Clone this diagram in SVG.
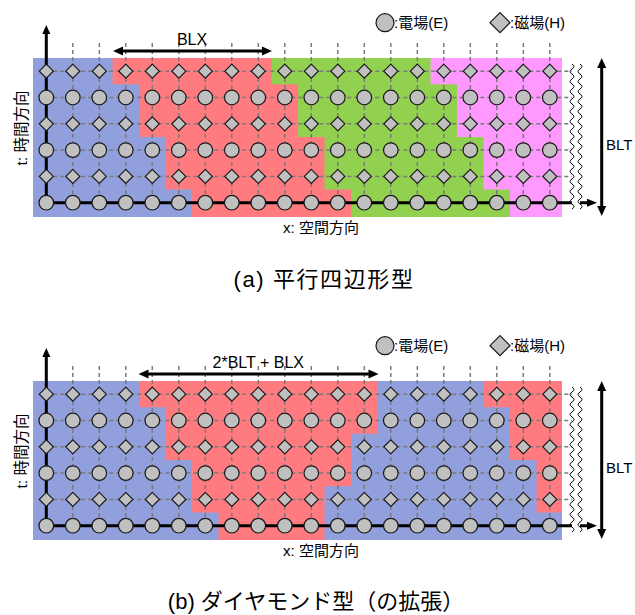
<svg xmlns="http://www.w3.org/2000/svg" xmlns:xlink="http://www.w3.org/1999/xlink" width="635" height="615" viewBox="0 0 635 615">
<style>
.bl{fill:#919FDC}.rd{fill:#FF7B80}.gr{fill:#92D050}.pk{fill:#FF99FF}
.grid{fill:none;stroke:#7A7A7A;stroke-width:1.5;stroke-dasharray:4 3}
.ax{fill:none;stroke:#000;stroke-width:3}
.ah{fill:#000}
.wv{fill:none;stroke:#000;stroke-width:1}
.nd{fill:#C0C0C0;stroke:#1A1A1A;stroke-width:1.2}
.t{font-family:"Liberation Sans","Noto Sans CJK JP",sans-serif;fill:#000}
</style>
<defs>
<circle id="E" class="nd" r="7.3"/>
<path id="H" class="nd" d="M0,-7L7,0L0,7L-7,0Z"/>
<path id="grid" class="grid" d="M72.8,43V202.7M99.3,43V202.7M125.8,43V202.7M152.3,43V202.7M178.8,43V202.7M205.3,43V202.7M231.8,43V202.7M258.3,43V202.7M284.8,43V202.7M311.3,43V202.7M337.8,43V202.7M364.3,43V202.7M390.8,43V202.7M417.3,43V202.7M443.8,43V202.7M470.3,43V202.7M496.8,43V202.7M523.3,43V202.7M549.8,43V202.7M46.3,176.4H572M46.3,150.1H572M46.3,123.8H572M46.3,97.5H572M46.3,71.2H572"/>
<path id="wave" class="wv" d="M0,64q4,2.5 0,5t0,5t0,5t0,5t0,5t0,5t0,5t0,5t0,5t0,5t0,5t0,5t0,5t0,5t0,5t0,5t0,5t0,5t0,5t0,5t0,5t0,5t0,5t0,5t0,5t0,5t0,5t0,5t0,5"/>
</defs>

<!-- ===== (a) ===== -->
<g id="diagramA">
<g id="a-regions">
<rect class="bl" x="33" y="58" width="529" height="159"/>
<polygon class="rd" points="112.55,58 562,58 562,217 192.05,217 192.05,189.55 165.55,189.55 165.55,136.95 139.05,136.95 139.05,84.35 112.55,84.35"/>
<polygon class="gr" points="271.55,58 562,58 562,217 351.05,217 351.05,189.55 324.55,189.55 324.55,136.95 298.05,136.95 298.05,84.35 271.55,84.35"/>
<polygon class="pk" points="430.55,58 562,58 562,217 510.05,217 510.05,189.55 483.55,189.55 483.55,136.95 457.05,136.95 457.05,84.35 430.55,84.35"/>
</g>
<g id="a-connectors">
<use href="#grid"/>
<path class="ax" d="M46.3,202.7V33M46.3,202.7H572M580,202.7H588M601.7,67V207M122,51H263"/>
<polygon class="ah" points="46.3,25 42.3,34 50.3,34"/>
<polygon class="ah" points="597,202.7 587,198.7 587,206.7"/>
<polygon class="ah" points="601.7,58 597.2,68 606.2,68"/>
<polygon class="ah" points="601.7,216 597.2,206 606.2,206"/>
<polygon class="ah" points="113,51 123,46.5 123,55.5"/>
<polygon class="ah" points="272,51 262,46.5 262,55.5"/>
<use href="#wave" x="572"/>
<use href="#wave" x="580"/>
</g>
<g id="a-nodes">
<g id="a-row5" transform="translate(0,71.2)"><use id="aH5_0" href="#H" x="46.3"/><use id="aH5_1" href="#H" x="72.8"/><use id="aH5_2" href="#H" x="99.3"/><use id="aH5_3" href="#H" x="125.8"/><use id="aH5_4" href="#H" x="152.3"/><use id="aH5_5" href="#H" x="178.8"/><use id="aH5_6" href="#H" x="205.3"/><use id="aH5_7" href="#H" x="231.8"/><use id="aH5_8" href="#H" x="258.3"/><use id="aH5_9" href="#H" x="284.8"/><use id="aH5_10" href="#H" x="311.3"/><use id="aH5_11" href="#H" x="337.8"/><use id="aH5_12" href="#H" x="364.3"/><use id="aH5_13" href="#H" x="390.8"/><use id="aH5_14" href="#H" x="417.3"/><use id="aH5_15" href="#H" x="443.8"/><use id="aH5_16" href="#H" x="470.3"/><use id="aH5_17" href="#H" x="496.8"/><use id="aH5_18" href="#H" x="523.3"/><use id="aH5_19" href="#H" x="549.8"/></g>
<g id="a-row4" transform="translate(0,97.5)"><use id="aE4_0" href="#E" x="46.3"/><use id="aE4_1" href="#E" x="72.8"/><use id="aE4_2" href="#E" x="99.3"/><use id="aE4_3" href="#E" x="125.8"/><use id="aE4_4" href="#E" x="152.3"/><use id="aE4_5" href="#E" x="178.8"/><use id="aE4_6" href="#E" x="205.3"/><use id="aE4_7" href="#E" x="231.8"/><use id="aE4_8" href="#E" x="258.3"/><use id="aE4_9" href="#E" x="284.8"/><use id="aE4_10" href="#E" x="311.3"/><use id="aE4_11" href="#E" x="337.8"/><use id="aE4_12" href="#E" x="364.3"/><use id="aE4_13" href="#E" x="390.8"/><use id="aE4_14" href="#E" x="417.3"/><use id="aE4_15" href="#E" x="443.8"/><use id="aE4_16" href="#E" x="470.3"/><use id="aE4_17" href="#E" x="496.8"/><use id="aE4_18" href="#E" x="523.3"/><use id="aE4_19" href="#E" x="549.8"/></g>
<g id="a-row3" transform="translate(0,123.8)"><use id="aH3_0" href="#H" x="46.3"/><use id="aH3_1" href="#H" x="72.8"/><use id="aH3_2" href="#H" x="99.3"/><use id="aH3_3" href="#H" x="125.8"/><use id="aH3_4" href="#H" x="152.3"/><use id="aH3_5" href="#H" x="178.8"/><use id="aH3_6" href="#H" x="205.3"/><use id="aH3_7" href="#H" x="231.8"/><use id="aH3_8" href="#H" x="258.3"/><use id="aH3_9" href="#H" x="284.8"/><use id="aH3_10" href="#H" x="311.3"/><use id="aH3_11" href="#H" x="337.8"/><use id="aH3_12" href="#H" x="364.3"/><use id="aH3_13" href="#H" x="390.8"/><use id="aH3_14" href="#H" x="417.3"/><use id="aH3_15" href="#H" x="443.8"/><use id="aH3_16" href="#H" x="470.3"/><use id="aH3_17" href="#H" x="496.8"/><use id="aH3_18" href="#H" x="523.3"/><use id="aH3_19" href="#H" x="549.8"/></g>
<g id="a-row2" transform="translate(0,150.1)"><use id="aE2_0" href="#E" x="46.3"/><use id="aE2_1" href="#E" x="72.8"/><use id="aE2_2" href="#E" x="99.3"/><use id="aE2_3" href="#E" x="125.8"/><use id="aE2_4" href="#E" x="152.3"/><use id="aE2_5" href="#E" x="178.8"/><use id="aE2_6" href="#E" x="205.3"/><use id="aE2_7" href="#E" x="231.8"/><use id="aE2_8" href="#E" x="258.3"/><use id="aE2_9" href="#E" x="284.8"/><use id="aE2_10" href="#E" x="311.3"/><use id="aE2_11" href="#E" x="337.8"/><use id="aE2_12" href="#E" x="364.3"/><use id="aE2_13" href="#E" x="390.8"/><use id="aE2_14" href="#E" x="417.3"/><use id="aE2_15" href="#E" x="443.8"/><use id="aE2_16" href="#E" x="470.3"/><use id="aE2_17" href="#E" x="496.8"/><use id="aE2_18" href="#E" x="523.3"/><use id="aE2_19" href="#E" x="549.8"/></g>
<g id="a-row1" transform="translate(0,176.4)"><use id="aH1_0" href="#H" x="46.3"/><use id="aH1_1" href="#H" x="72.8"/><use id="aH1_2" href="#H" x="99.3"/><use id="aH1_3" href="#H" x="125.8"/><use id="aH1_4" href="#H" x="152.3"/><use id="aH1_5" href="#H" x="178.8"/><use id="aH1_6" href="#H" x="205.3"/><use id="aH1_7" href="#H" x="231.8"/><use id="aH1_8" href="#H" x="258.3"/><use id="aH1_9" href="#H" x="284.8"/><use id="aH1_10" href="#H" x="311.3"/><use id="aH1_11" href="#H" x="337.8"/><use id="aH1_12" href="#H" x="364.3"/><use id="aH1_13" href="#H" x="390.8"/><use id="aH1_14" href="#H" x="417.3"/><use id="aH1_15" href="#H" x="443.8"/><use id="aH1_16" href="#H" x="470.3"/><use id="aH1_17" href="#H" x="496.8"/><use id="aH1_18" href="#H" x="523.3"/><use id="aH1_19" href="#H" x="549.8"/></g>
<g id="a-row0" transform="translate(0,202.7)"><use id="aE0_0" href="#E" x="46.3"/><use id="aE0_1" href="#E" x="72.8"/><use id="aE0_2" href="#E" x="99.3"/><use id="aE0_3" href="#E" x="125.8"/><use id="aE0_4" href="#E" x="152.3"/><use id="aE0_5" href="#E" x="178.8"/><use id="aE0_6" href="#E" x="205.3"/><use id="aE0_7" href="#E" x="231.8"/><use id="aE0_8" href="#E" x="258.3"/><use id="aE0_9" href="#E" x="284.8"/><use id="aE0_10" href="#E" x="311.3"/><use id="aE0_11" href="#E" x="337.8"/><use id="aE0_12" href="#E" x="364.3"/><use id="aE0_13" href="#E" x="390.8"/><use id="aE0_14" href="#E" x="417.3"/><use id="aE0_15" href="#E" x="443.8"/><use id="aE0_16" href="#E" x="470.3"/><use id="aE0_17" href="#E" x="496.8"/><use id="aE0_18" href="#E" x="523.3"/><use id="aE0_19" href="#E" x="549.8"/></g>
</g>
<g id="a-legend">
<circle class="nd" cx="385" cy="22.7" r="9"/>
<text class="t" x="394" y="28" font-size="15">:電場(E)</text>
<path class="nd" d="M500,12.7L510,22.7L500,32.7L490,22.7Z"/>
<text class="t" x="510" y="28" font-size="15">:磁場(H)</text>
</g>
<g id="a-labels">
<text class="t" x="192" y="45" font-size="16" text-anchor="middle">BLX</text>
<text class="t" x="606" y="150" font-size="15">BLT</text>
<text class="t" font-size="15.5" text-anchor="middle" transform="translate(27,128) rotate(-90)">t: 時間方向</text>
<text class="t" x="321" y="233" font-size="15" text-anchor="middle">x: 空間方向</text>
</g>
</g>
<text id="captionA" class="t" x="324" y="287" font-size="22" letter-spacing="1.6" text-anchor="middle">(a) 平行四辺形型</text>

<!-- ===== (b) ===== -->
<g id="diagramB" transform="translate(0,323)">
<g id="b-regions">
<rect class="bl" x="33" y="58" width="529" height="159"/>
<polygon class="rd" points="139.05,58 377.55,58 377.55,110.65 351.05,110.65 351.05,163.25 324.55,163.25 324.55,217 218.55,217 218.55,189.55 192.05,189.55 192.05,136.95 165.55,136.95 165.55,84.35 139.05,84.35"/>
<polygon class="rd" points="483.55,58 562,58 562,189.55 536.55,189.55 536.55,136.95 510.05,136.95 510.05,84.35 483.55,84.35"/>
</g>
<g id="b-connectors">
<use href="#grid"/>
<path class="ax" d="M46.3,202.7V33M46.3,202.7H572M580,202.7H588M601.7,67V207M148,51H369"/>
<polygon class="ah" points="46.3,25 42.3,34 50.3,34"/>
<polygon class="ah" points="597,202.7 587,198.7 587,206.7"/>
<polygon class="ah" points="601.7,58 597.2,68 606.2,68"/>
<polygon class="ah" points="601.7,216 597.2,206 606.2,206"/>
<polygon class="ah" points="138.5,51 148.5,46.5 148.5,55.5"/>
<polygon class="ah" points="378.5,51 368.5,46.5 368.5,55.5"/>
<use href="#wave" x="572"/>
<use href="#wave" x="580"/>
</g>
<g id="b-nodes">
<g id="b-row5" transform="translate(0,71.2)"><use id="bH5_0" href="#H" x="46.3"/><use id="bH5_1" href="#H" x="72.8"/><use id="bH5_2" href="#H" x="99.3"/><use id="bH5_3" href="#H" x="125.8"/><use id="bH5_4" href="#H" x="152.3"/><use id="bH5_5" href="#H" x="178.8"/><use id="bH5_6" href="#H" x="205.3"/><use id="bH5_7" href="#H" x="231.8"/><use id="bH5_8" href="#H" x="258.3"/><use id="bH5_9" href="#H" x="284.8"/><use id="bH5_10" href="#H" x="311.3"/><use id="bH5_11" href="#H" x="337.8"/><use id="bH5_12" href="#H" x="364.3"/><use id="bH5_13" href="#H" x="390.8"/><use id="bH5_14" href="#H" x="417.3"/><use id="bH5_15" href="#H" x="443.8"/><use id="bH5_16" href="#H" x="470.3"/><use id="bH5_17" href="#H" x="496.8"/><use id="bH5_18" href="#H" x="523.3"/><use id="bH5_19" href="#H" x="549.8"/></g>
<g id="b-row4" transform="translate(0,97.5)"><use id="bE4_0" href="#E" x="46.3"/><use id="bE4_1" href="#E" x="72.8"/><use id="bE4_2" href="#E" x="99.3"/><use id="bE4_3" href="#E" x="125.8"/><use id="bE4_4" href="#E" x="152.3"/><use id="bE4_5" href="#E" x="178.8"/><use id="bE4_6" href="#E" x="205.3"/><use id="bE4_7" href="#E" x="231.8"/><use id="bE4_8" href="#E" x="258.3"/><use id="bE4_9" href="#E" x="284.8"/><use id="bE4_10" href="#E" x="311.3"/><use id="bE4_11" href="#E" x="337.8"/><use id="bE4_12" href="#E" x="364.3"/><use id="bE4_13" href="#E" x="390.8"/><use id="bE4_14" href="#E" x="417.3"/><use id="bE4_15" href="#E" x="443.8"/><use id="bE4_16" href="#E" x="470.3"/><use id="bE4_17" href="#E" x="496.8"/><use id="bE4_18" href="#E" x="523.3"/><use id="bE4_19" href="#E" x="549.8"/></g>
<g id="b-row3" transform="translate(0,123.8)"><use id="bH3_0" href="#H" x="46.3"/><use id="bH3_1" href="#H" x="72.8"/><use id="bH3_2" href="#H" x="99.3"/><use id="bH3_3" href="#H" x="125.8"/><use id="bH3_4" href="#H" x="152.3"/><use id="bH3_5" href="#H" x="178.8"/><use id="bH3_6" href="#H" x="205.3"/><use id="bH3_7" href="#H" x="231.8"/><use id="bH3_8" href="#H" x="258.3"/><use id="bH3_9" href="#H" x="284.8"/><use id="bH3_10" href="#H" x="311.3"/><use id="bH3_11" href="#H" x="337.8"/><use id="bH3_12" href="#H" x="364.3"/><use id="bH3_13" href="#H" x="390.8"/><use id="bH3_14" href="#H" x="417.3"/><use id="bH3_15" href="#H" x="443.8"/><use id="bH3_16" href="#H" x="470.3"/><use id="bH3_17" href="#H" x="496.8"/><use id="bH3_18" href="#H" x="523.3"/><use id="bH3_19" href="#H" x="549.8"/></g>
<g id="b-row2" transform="translate(0,150.1)"><use id="bE2_0" href="#E" x="46.3"/><use id="bE2_1" href="#E" x="72.8"/><use id="bE2_2" href="#E" x="99.3"/><use id="bE2_3" href="#E" x="125.8"/><use id="bE2_4" href="#E" x="152.3"/><use id="bE2_5" href="#E" x="178.8"/><use id="bE2_6" href="#E" x="205.3"/><use id="bE2_7" href="#E" x="231.8"/><use id="bE2_8" href="#E" x="258.3"/><use id="bE2_9" href="#E" x="284.8"/><use id="bE2_10" href="#E" x="311.3"/><use id="bE2_11" href="#E" x="337.8"/><use id="bE2_12" href="#E" x="364.3"/><use id="bE2_13" href="#E" x="390.8"/><use id="bE2_14" href="#E" x="417.3"/><use id="bE2_15" href="#E" x="443.8"/><use id="bE2_16" href="#E" x="470.3"/><use id="bE2_17" href="#E" x="496.8"/><use id="bE2_18" href="#E" x="523.3"/><use id="bE2_19" href="#E" x="549.8"/></g>
<g id="b-row1" transform="translate(0,176.4)"><use id="bH1_0" href="#H" x="46.3"/><use id="bH1_1" href="#H" x="72.8"/><use id="bH1_2" href="#H" x="99.3"/><use id="bH1_3" href="#H" x="125.8"/><use id="bH1_4" href="#H" x="152.3"/><use id="bH1_5" href="#H" x="178.8"/><use id="bH1_6" href="#H" x="205.3"/><use id="bH1_7" href="#H" x="231.8"/><use id="bH1_8" href="#H" x="258.3"/><use id="bH1_9" href="#H" x="284.8"/><use id="bH1_10" href="#H" x="311.3"/><use id="bH1_11" href="#H" x="337.8"/><use id="bH1_12" href="#H" x="364.3"/><use id="bH1_13" href="#H" x="390.8"/><use id="bH1_14" href="#H" x="417.3"/><use id="bH1_15" href="#H" x="443.8"/><use id="bH1_16" href="#H" x="470.3"/><use id="bH1_17" href="#H" x="496.8"/><use id="bH1_18" href="#H" x="523.3"/><use id="bH1_19" href="#H" x="549.8"/></g>
<g id="b-row0" transform="translate(0,202.7)"><use id="bE0_0" href="#E" x="46.3"/><use id="bE0_1" href="#E" x="72.8"/><use id="bE0_2" href="#E" x="99.3"/><use id="bE0_3" href="#E" x="125.8"/><use id="bE0_4" href="#E" x="152.3"/><use id="bE0_5" href="#E" x="178.8"/><use id="bE0_6" href="#E" x="205.3"/><use id="bE0_7" href="#E" x="231.8"/><use id="bE0_8" href="#E" x="258.3"/><use id="bE0_9" href="#E" x="284.8"/><use id="bE0_10" href="#E" x="311.3"/><use id="bE0_11" href="#E" x="337.8"/><use id="bE0_12" href="#E" x="364.3"/><use id="bE0_13" href="#E" x="390.8"/><use id="bE0_14" href="#E" x="417.3"/><use id="bE0_15" href="#E" x="443.8"/><use id="bE0_16" href="#E" x="470.3"/><use id="bE0_17" href="#E" x="496.8"/><use id="bE0_18" href="#E" x="523.3"/><use id="bE0_19" href="#E" x="549.8"/></g>
</g>
<g id="b-legend">
<circle class="nd" cx="385" cy="22.7" r="9"/>
<text class="t" x="394" y="28" font-size="15">:電場(E)</text>
<path class="nd" d="M500,12.7L510,22.7L500,32.7L490,22.7Z"/>
<text class="t" x="510" y="28" font-size="15">:磁場(H)</text>
</g>
<g id="b-labels">
<text class="t" x="258.3" y="45" font-size="16" text-anchor="middle">2*BLT + BLX</text>
<text class="t" x="606" y="150" font-size="15">BLT</text>
<text class="t" font-size="15.5" text-anchor="middle" transform="translate(27,128) rotate(-90)">t: 時間方向</text>
<text class="t" x="321" y="233" font-size="15" text-anchor="middle">x: 空間方向</text>
</g>
</g>
<text id="captionB" class="t" x="316" y="609" font-size="22" text-anchor="middle">(b) ダイヤモンド型（の拡張）</text>
</svg>
